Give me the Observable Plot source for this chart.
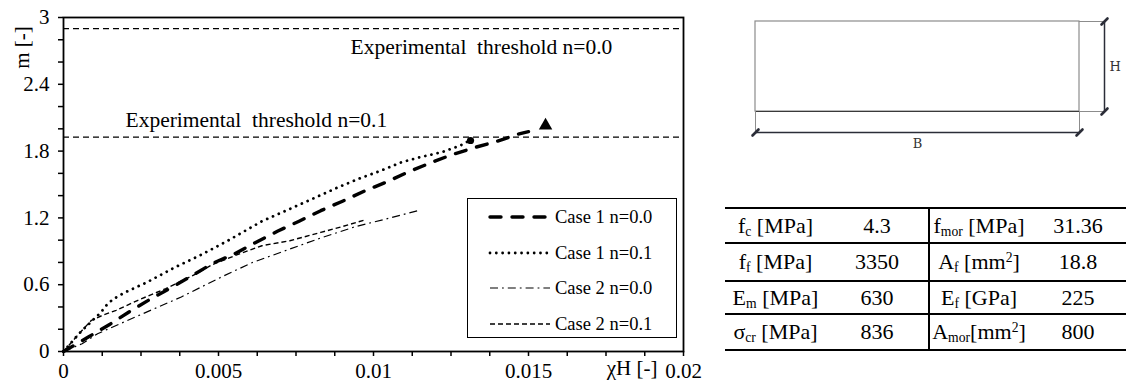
<!DOCTYPE html>
<html><head><meta charset="utf-8">
<script src="https://cdn.jsdelivr.net/npm/d3@7"></script>
<script src="https://cdn.jsdelivr.net/npm/@observablehq/plot@0.6"></script>
<style>
body{margin:0;background:#fff;}
#wrap{position:relative;width:1126px;height:385px;overflow:hidden;background:#fff;font-family:"Liberation Serif","Times New Roman",serif;color:#000;}
#chart{position:absolute;left:0;top:0;}
#legend{position:absolute;left:467px;top:198px;width:210px;height:140px;box-sizing:border-box;border:1.5px solid #000;background:#fff;}
.lrow{position:absolute;left:0;height:24px;width:205px;}
.lrow svg{position:absolute;left:20px;top:0;}
.lrow span{position:absolute;left:87px;top:0;line-height:24px;font-size:18.5px;white-space:nowrap;font-family:"Liberation Serif",serif;}
#sketch{position:absolute;left:720px;top:0;}
#tbl{position:absolute;left:725px;top:207px;border-collapse:collapse;font-size:22px;font-family:"Liberation Serif",serif;}
#tbl td{padding:0;text-align:center;white-space:nowrap;vertical-align:middle;}
#tbl tr{border-top:2px solid #000;}
#tbl tr:last-child{border-bottom:2px solid #000;}
#tbl td:nth-child(2){border-right:2px solid #000;}
#tbl sub{font-size:62%;vertical-align:-0.2em;line-height:0;}
#tbl sup{font-size:62%;vertical-align:0.55em;line-height:0;}
</style>
</head><body>
<div id="wrap">
  <div id="chart"></div>
  <div id="legend"></div>
  <div id="sketch"></div>
  <table id="tbl"></table>
</div>
<script>
// ---------- data ----------
const seriesNames = ["Case 1 n=0.0", "Case 1 n=0.1", "Case 2 n=0.0", "Case 2 n=0.1"];

const case1n0X = [0, 0.0008, 0.0015, 0.0021, 0.0028, 0.0035, 0.0042, 0.0048, 0.0055, 0.0062, 0.0069, 0.0076, 0.0083, 0.0090, 0.0097, 0.0104, 0.0111, 0.0118, 0.0125, 0.0133, 0.0140, 0.0147, 0.0150];
const case1n0Y = [0, 0.13, 0.245, 0.353, 0.47, 0.578, 0.69, 0.79, 0.875, 0.98, 1.08, 1.17, 1.265, 1.35, 1.44, 1.52, 1.61, 1.69, 1.765, 1.835, 1.89, 1.955, 1.975];

const case1n1X = [0, 0.0005, 0.0009, 0.0012, 0.0014, 0.0016, 0.0020, 0.0027, 0.0036, 0.0045, 0.0053, 0.0064, 0.0077, 0.0089, 0.0096, 0.0102, 0.0109, 0.0115, 0.0122, 0.0128, 0.0131];
const case1n1Y = [0, 0.16, 0.27, 0.35, 0.42, 0.47, 0.533, 0.623, 0.757, 0.877, 0.995, 1.17, 1.33, 1.48, 1.56, 1.62, 1.70, 1.745, 1.79, 1.85, 1.895];

const case2n0X = [0, 0.0006, 0.0011, 0.0024, 0.0038, 0.0051, 0.0061, 0.0072, 0.0083, 0.0094, 0.0104, 0.0115];
const case2n0Y = [0, 0.07, 0.16, 0.32, 0.49, 0.67, 0.80, 0.91, 1.02, 1.12, 1.19, 1.27];

const case2n1X = [0, 0.0005, 0.0009, 0.0013, 0.0017, 0.0024, 0.0033, 0.0043, 0.0048, 0.0057, 0.0064, 0.0073, 0.0083, 0.0089, 0.0097];
const case2n1Y = [0, 0.16, 0.28, 0.33, 0.37, 0.46, 0.565, 0.70, 0.78, 0.88, 0.95, 0.995, 1.07, 1.115, 1.18];

const markerX = [0.01555, 0.01313];
const markerY = [2.03, 1.895];
const markerSymbol = ["triangle", "circle"];

const thresholdY = [2.9, 1.925];
const thresholdLabels = ["Experimental\u00a0\u00a0threshold n=0.0", "Experimental\u00a0\u00a0threshold n=0.1"];
const thresholdLabelX = [0.00926, 0.0020];

const xTicks = [0, 0.005, 0.01, 0.015, 0.02];
const xTickLabels = ["0", "0.005", "0.01", "0.015", "0.02"];
const yTicks = [0, 0.6, 1.2, 1.8, 2.4, 3];
const yTickLabels = ["0", "0.6", "1.2", "1.8", "2.4", "3"];
const xLabel = "\u03c7H [-]";
const yLabel = "m [-]";

// section sketch
const sectionSize = [1.0, 0.28];   // B, H (schematic)
const sectionLabels = ["B", "H"];

// table
const tLeftSym = ["f", "f", "E", "\u03c3"];
const tLeftSub = ["c", "f", "m", "cr"];
const tLeftUnit = [" [MPa]", " [MPa]", " [MPa]", " [MPa]"];
const tLeftVal = ["4.3", "3350", "630", "836"];
const tRightSym = ["f", "A", "E", "A"];
const tRightSub = ["mor", "f", "f", "mor"];
const tRightUnit = [" [MPa]", " [mm<sup>2</sup>]", " [GPa]", "[mm<sup>2</sup>]"];
const tRightVal = ["31.36", "18.8", "225", "800"];

// ---------- styles ----------
const seriesStyle = [
  {strokeWidth: 3.4, strokeDasharray: "11,11", strokeLinecap: "round"},
  {strokeWidth: 2.8, strokeDasharray: "0.01,6.3", strokeLinecap: "round"},
  {strokeWidth: 1.2, strokeDasharray: "8,4,1.8,4", strokeLinecap: "butt"},
  {strokeWidth: 1.4, strokeDasharray: "5,3", strokeLinecap: "butt"}
];
const seriesX = [case1n0X, case1n1X, case2n0X, case2n1X];
const seriesY = [case1n0Y, case1n1Y, case2n0Y, case2n1Y];
const seriesData = seriesNames.map((name, i) => seriesX[i].map((x, j) => ({name, x, y: seriesY[i][j]})));
const markers = markerX.map((x, i) => ({x, y: markerY[i], symbol: markerSymbol[i]}));
const thresholds = thresholdY.map((y, i) => ({y, label: thresholdLabels[i], lx: thresholdLabelX[i]}));

const chart = Plot.plot({
  width: 700, height: 385,
  marginLeft: 63, marginRight: 17, marginTop: 17, marginBottom: 34,
  x: {domain: [0, 0.02]},
  y: {domain: [0, 3]},
  style: {fontFamily: "'Liberation Serif', serif", fontSize: "21px", color: "#000", background: "#fff", overflow: "visible"},
  marks: [
    Plot.ruleY(thresholds, {y: "y", stroke: "#000", strokeWidth: 1.2, strokeDasharray: "6,4"}),
    Plot.text(thresholds.slice(0, 1), {x: "lx", y: "y", text: "label", textAnchor: "start", dy: 18, fontSize: 21.5}),
    Plot.text(thresholds.slice(1), {x: "lx", y: "y", text: "label", textAnchor: "start", dy: -17, fontSize: 21.5}),
    ...seriesData.map((d, i) => Plot.line(d, {x: "x", y: "y", stroke: "#000", ...seriesStyle[i]})),
    Plot.dot(markers.filter(d => d.symbol === "triangle"), {x: "x", y: "y", symbol: "triangle", r: 5, fill: "#000"}),
    Plot.dot(markers.filter(d => d.symbol === "circle"), {x: "x", y: "y", r: 3.6, fill: "#000"}),
    Plot.axisX({ticks: d3.range(0, 0.02001, 0.00125), tickSize: 5, tickFormat: () => "", strokeWidth: 1.5, label: null}),
    Plot.axisX({ticks: xTicks, tickSize: 0, tickPadding: 12, tickFormat: (d, i) => xTickLabels[i], label: null}),
    Plot.axisY({ticks: d3.range(0, 3.001, 0.2), tickSize: 5, tickFormat: () => "", strokeWidth: 1.5, label: null}),
    Plot.axisY({ticks: yTicks, tickSize: 0, tickPadding: 14, tickFormat: (d, i) => yTickLabels[i], label: null}),
    Plot.frame({stroke: "#000", strokeWidth: 1.8}),
    Plot.text([xLabel], {frameAnchor: "bottom-right", text: d => d, textAnchor: "end", lineAnchor: "middle", dx: -26, dy: 17, fontSize: 21}),
    Plot.text([yLabel], {frameAnchor: "top-left", text: d => d, rotate: -90, textAnchor: "middle", lineAnchor: "middle", dx: -41, dy: 30, fontSize: 21})
  ]
});
document.getElementById("chart").appendChild(chart);

// ---------- legend ----------
const legend = document.getElementById("legend");
const rowTops = [6, 41.5, 76.5, 112.5];
seriesNames.forEach((name, i) => {
  const row = document.createElement("div");
  row.className = "lrow";
  row.style.top = rowTops[i] + "px";
  const svg = d3.create("svg").attr("width", 64).attr("height", 24);
  svg.append("line").attr("x1", 2).attr("x2", 62).attr("y1", 12).attr("y2", 12)
    .attr("stroke", "#000")
    .attr("stroke-width", seriesStyle[i].strokeWidth)
    .attr("stroke-dasharray", seriesStyle[i].strokeDasharray)
    .attr("stroke-linecap", seriesStyle[i].strokeLinecap);
  row.appendChild(svg.node());
  const span = document.createElement("span");
  span.textContent = name;
  row.appendChild(span);
  legend.appendChild(row);
});

// ---------- section sketch ----------
const [B, H] = sectionSize;
const skW = 406, skH = 160, mL = 35, mR = 47, mT = 21, mB = 49;
const kx = (skW - mL - mR) / B, ky = (skH - mT - mB) / H;
const px = v => v / kx, py = v => v / ky;
const gray = "#8c8c8c", dark = "#2b2d38";
const slashPts = [
  {x: B + px(25), y: H}, {x: B + px(25), y: 0},
  {x: 0, y: -py(21)}, {x: B, y: -py(21)}
];
const sketch = Plot.plot({
  width: skW, height: skH, marginLeft: mL, marginRight: mR, marginTop: mT, marginBottom: mB,
  x: {domain: [0, B], axis: null}, y: {domain: [0, H], axis: null},
  style: {fontFamily: "'DejaVu Serif', serif", fontSize: "13px", background: "transparent", overflow: "visible"},
  marks: [
    Plot.rect([{x1: 0, x2: B, y1: 0, y2: H}], {x1: "x1", x2: "x2", y1: "y1", y2: "y2", fill: "none", stroke: gray, strokeWidth: 1.2}),
    Plot.ruleY([0], {x1: 0, x2: B, stroke: "#3a3a3a", strokeWidth: 1.2}),
    Plot.ruleY([0, H], {x1: B, x2: B + px(27), stroke: gray, strokeWidth: 1}),
    Plot.ruleX([0, B], {y1: 0, y2: -py(22), stroke: gray, strokeWidth: 1}),
    Plot.ruleX([B + px(25)], {y1: 0, y2: H, stroke: dark, strokeWidth: 1.5}),
    Plot.ruleY([-py(21)], {x1: 0, x2: B, stroke: dark, strokeWidth: 1.5}),
    Plot.link(slashPts, {x1: d => d.x - px(3), y1: d => d.y - py(3), x2: d => d.x + px(3), y2: d => d.y + py(3), stroke: dark, strokeWidth: 2.6, strokeLinecap: "round"}),
    Plot.text([sectionLabels[1]], {x: B + px(30), y: H / 2, text: d => d, textAnchor: "start", fill: "#333"}),
    Plot.text([sectionLabels[0]], {x: B / 2, y: -py(32), text: d => d, fill: "#333"})
  ]
});
document.getElementById("sketch").appendChild(sketch);

// ---------- table ----------
const colW = [101, 102, 98, 100];
const rowH = [35, 38, 33, 36];
const tbl = document.getElementById("tbl");
tLeftSym.forEach((s, i) => {
  const tr = document.createElement("tr");
  tr.style.height = rowH[i] + "px";
  const cells = [
    `${s}<sub>${tLeftSub[i]}</sub>${tLeftUnit[i]}`,
    tLeftVal[i],
    `${tRightSym[i]}<sub>${tRightSub[i]}</sub>${tRightUnit[i]}`,
    tRightVal[i]
  ];
  cells.forEach((c, j) => {
    const td = document.createElement("td");
    td.style.width = colW[j] + "px";
    td.style.minWidth = colW[j] + "px";
    td.style.maxWidth = colW[j] + "px";
    td.innerHTML = c;
    tr.appendChild(td);
  });
  tbl.appendChild(tr);
});
</script>
</body></html>
